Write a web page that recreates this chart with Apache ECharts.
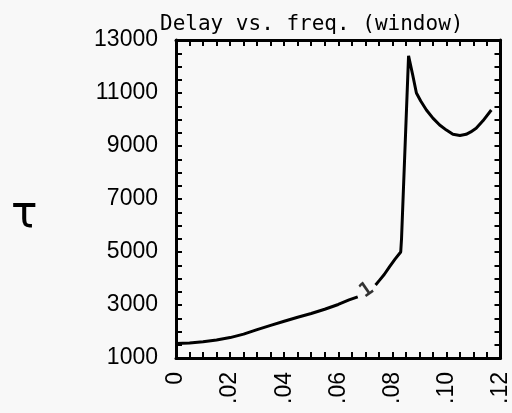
<!DOCTYPE html>
<html>
<head>
<meta charset="utf-8">
<script src="https://cdn.jsdelivr.net/npm/echarts@6/dist/echarts.min.js"></script>
<style>
html,body{margin:0;padding:0;background:#f8f8f8;}
#chart{width:512px;height:413px;}
</style>
</head>
<body>
<div id="chart"></div>
<script>
// delay vs frequency (null = gap where the "1" label sits)
var freq = [0, 0.005, 0.010, 0.015, 0.020, 0.025, 0.030, 0.035, 0.040, 0.045, 0.050, 0.055, 0.060, 0.064, 0.0672,
            null,
            0.0738, 0.0753, 0.0770, 0.0790, 0.0810, 0.0831, 0.0834,
            0.0860, 0.0875, 0.0889, 0.0905, 0.0926, 0.0950, 0.0975, 0.1000, 0.1024, 0.1050, 0.1073, 0.1090, 0.1110, 0.1135, 0.1166];
var delay = [1550, 1570, 1610, 1680, 1770, 1900, 2070, 2230, 2385, 2540, 2680, 2840, 3020, 3190, 3310,
             null,
             3755, 3940, 4150, 4450, 4730, 5000, 5500,
             12400, 11700, 11000, 10700, 10360, 10050, 9790, 9600, 9440, 9400, 9440, 9530, 9670, 9950, 10360];
var curveLabel = {text: '1', x: 0.0705, y: 3560};
var xTicks = [0, 0.12, 0.02];       // min, max, step
var yTicks = [1000, 13000, 1000];   // labels every 2000 starting at 1000

var pts = [];
for (var i = 0; i < freq.length; i++) {
  pts.push(freq[i] === null ? [null, null] : [freq[i], delay[i]]);
}

var myChart = echarts.init(document.getElementById('chart'));

var lineStyle = {color: '#000', width: 3};
var tickStyle = {color: '#000', width: 2};

function xAxisDef(pos, showLabel) {
  return {
    type: 'value', position: pos, min: xTicks[0], max: xTicks[1], interval: xTicks[2],
    axisLine: {show: true, onZero: false, lineStyle: lineStyle},
    axisTick: {show: true, inside: true, length: 6, lineStyle: tickStyle},
    minorTick: {show: true, splitNumber: 4, length: 6, lineStyle: tickStyle},
    splitLine: {show: false},
    axisLabel: {
      show: showLabel, rotate: 90, margin: 14, color: '#000',
      fontFamily: 'Liberation Sans', fontSize: 23,
      formatter: function (v) {
        var k = Math.round(v * 1000);
        if (k === 0) return '0';
        return '.' + String(k / 10).padStart(2, '0');
      }
    }
  };
}
function yAxisDef(pos, showLabel) {
  return {
    type: 'value', position: pos, min: yTicks[0], max: yTicks[1], interval: yTicks[2],
    axisLine: {show: true, onZero: false, lineStyle: lineStyle},
    axisTick: {show: true, inside: true, length: 6, lineStyle: tickStyle},
    minorTick: {show: true, splitNumber: 2, length: 6, lineStyle: tickStyle},
    splitLine: {show: false},
    axisLabel: {
      show: showLabel, margin: 18, color: '#000',
      fontFamily: 'Liberation Sans', fontSize: 23,
      formatter: function (v) {
        return ((v - yTicks[0]) % 2000 === 0) ? String(v) : '';
      }
    }
  };
}

option = {
  backgroundColor: '#f8f8f8',
  animation: false,
  title: {
    text: 'Delay vs. freq. (window)',
    left: 155, top: 9,
    textStyle: {fontFamily: 'DejaVu Sans Mono', fontSize: 21, fontWeight: 'normal', color: '#000'}
  },
  graphic: [{
    type: 'text', left: 11, top: 194,
    style: {text: 'τ', fontFamily: 'DejaVu Sans', fontSize: 44, fill: '#000'}
  }],
  grid: {left: 176, right: 11, top: 40, bottom: 55},
  xAxis: [xAxisDef('bottom', true), xAxisDef('top', false)],
  yAxis: [yAxisDef('left', true), yAxisDef('right', false)],
  series: [{
    type: 'line',
    data: pts,
    connectNulls: false,
    showSymbol: false,
    smooth: false,
    lineStyle: {color: '#000', width: 3}
  }, {
    type: 'scatter',
    data: [[curveLabel.x, curveLabel.y]],
    symbolSize: 2,
    itemStyle: {color: 'rgba(0,0,0,0)'},
    label: {
      show: true, position: 'inside', formatter: curveLabel.text, rotate: 35,
      fontFamily: 'DejaVu Sans Mono', fontSize: 20, fontWeight: 'bold', color: '#000'
    }
  }]
};
myChart.setOption(option);
</script>
</body>
</html>
